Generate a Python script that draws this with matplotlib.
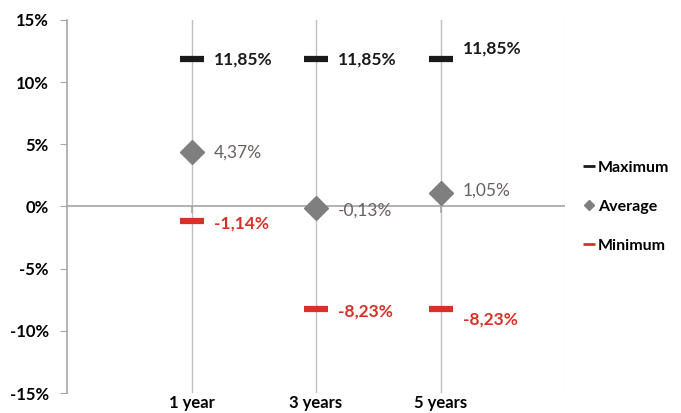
import matplotlib.pyplot as plt
from matplotlib.lines import Line2D

categories = ["1 year", "3 years", "5 years"]
maximum = [11.85, 11.85, 11.85]
average = [4.37, -0.13, 1.05]
minimum = [-1.14, -8.23, -8.23]

# label offsets in points (dx, dy), tweaked by hand
max_off = [(16, 0), (16, 0), (16, 8)]
avg_off = [(16, 0), (16, -2), (16, 2)]
min_off = [(16, -2), (16, -2), (16, -8)]

black = "#1a1a1a"
grey = "#7f7f7f"
red = "#d9302a"
lbl_grey = "#6b5f5f"

plt.rcParams['font.family'] = ['Lato', 'DejaVu Sans']

fig = plt.figure(figsize=(6.81, 4.13), dpi=100)
ax = fig.add_axes([0.0984, 0.0484, 0.7313, 0.9032])

x = list(range(1, len(categories) + 1))

for xi in x:
    ax.axvline(xi, color="#c0c0c0", lw=1, zorder=1)
ax.axvline(4, color="#ececec", lw=1, zorder=1)
ax.axhline(0, color="#a6a6a6", lw=1.2, zorder=1)
ax.vlines(x, -0.5, 0, color="#a6a6a6", lw=1.2, zorder=1)

ax.plot(x, maximum, ls="none", marker="_", ms=17, mew=4.5, color=black, zorder=3)
ax.plot(x, average, ls="none", marker="D", ms=12, color=grey, zorder=3)
ax.plot(x, minimum, ls="none", marker="_", ms=17, mew=4.5, color=red, zorder=3)

def fmt(v):
    return ("%.2f%%" % v).replace(".", ",")

for i, xi in enumerate(x):
    ax.annotate(fmt(maximum[i]), (xi, maximum[i]), xytext=max_off[i], textcoords="offset points",
                va="center", ha="left", fontsize=12.5, fontweight="bold", color=black)
    ax.annotate(fmt(average[i]), (xi, average[i]), xytext=avg_off[i], textcoords="offset points",
                va="center", ha="left", fontsize=12.5, color=lbl_grey)
    ax.annotate(fmt(minimum[i]), (xi, minimum[i]), xytext=min_off[i], textcoords="offset points",
                va="center", ha="left", fontsize=12.5, fontweight="bold", color=red)

ax.set_xlim(0, 4)
ax.set_ylim(-15, 15)
ax.set_yticks(range(-15, 16, 5))
ax.set_yticklabels(["%d%%" % t for t in range(-15, 16, 5)], fontsize=12, fontweight="bold")
ax.set_xticks(x)
ax.set_xticklabels(categories, fontsize=12, fontweight="bold")
ax.tick_params(axis="x", length=0, pad=1.5)
ax.tick_params(axis="y", length=5, color="#a6a6a6", pad=8, direction="out")

for s in ["top", "right", "bottom"]:
    ax.spines[s].set_visible(False)
ax.spines["left"].set_color("#a6a6a6")
ax.spines["left"].set_linewidth(1.2)

handles = [
    Line2D([], [], ls="none", marker="_", ms=8, mew=2, color=black),
    Line2D([], [], ls="none", marker="D", ms=5, color=grey),
    Line2D([], [], ls="none", marker="_", ms=8, mew=2, color=red),
]
fig.legend(handles, ["Maximum", "Average", "Minimum"], loc="center left",
           bbox_to_anchor=(0.838, 0.5), frameon=False, handlelength=0.5,
           handletextpad=0.3, labelspacing=1.55, prop={"weight": "bold", "size": 11.5})

fig.savefig("out.png", dpi=100)
